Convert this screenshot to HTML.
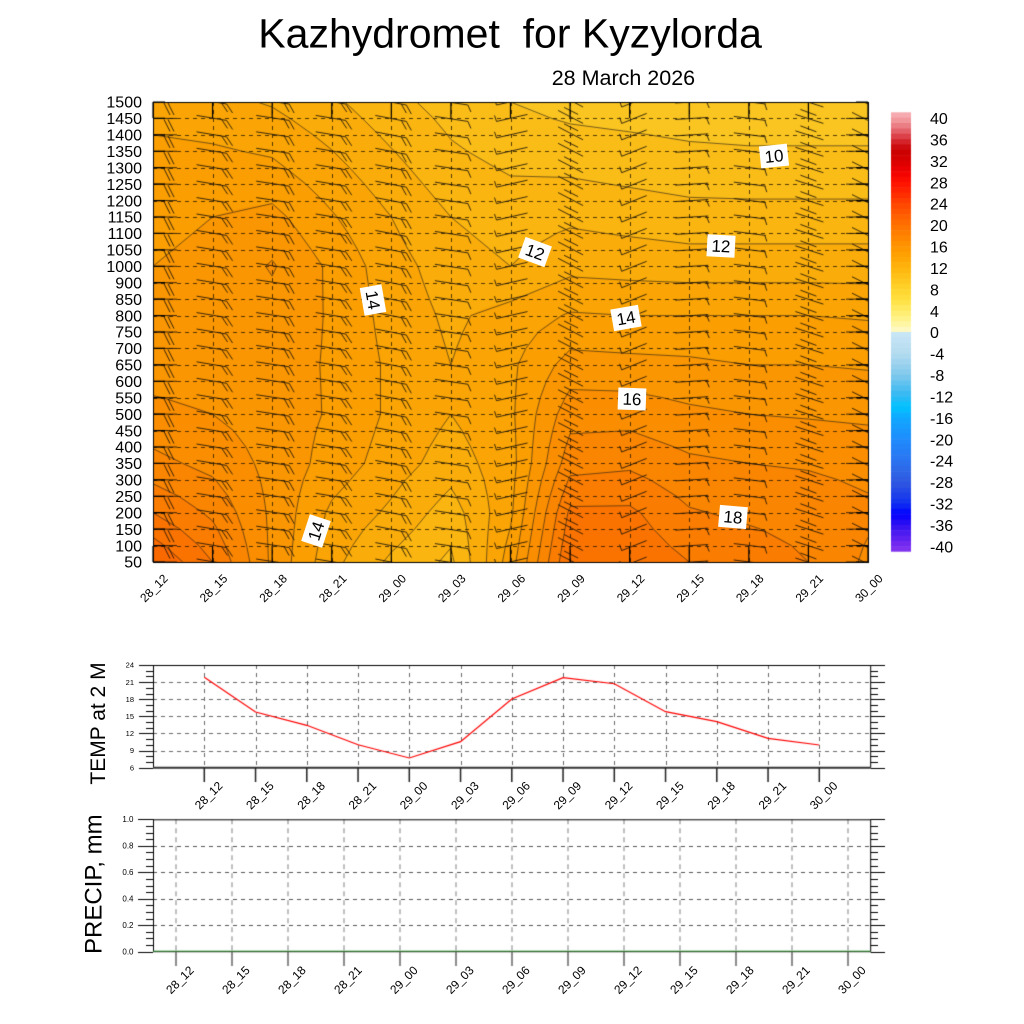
<!DOCTYPE html>
<html><head><meta charset="utf-8">
<style>
html,body{margin:0;padding:0;background:#fff;width:1024px;height:1024px;overflow:hidden}
#cv{position:absolute;left:0;top:0}
#sv{position:absolute;left:0;top:0}
text{font-family:"Liberation Sans",Arial,sans-serif;fill:#000}
</style></head><body>
<canvas id="cv" width="1024" height="1024"></canvas>
<svg id="sv" width="1024" height="1024" viewBox="0 0 1024 1024" xmlns="http://www.w3.org/2000/svg">
<text x="258.3" y="47.7" font-size="41" style="white-space:pre" xml:space="preserve">Kazhydromet  for Kyzylorda</text>
<text x="551.7" y="85" font-size="21.5">28 March 2026</text>

<g font-size="16" text-anchor="end">
<text x="142" y="567.7">50</text><text x="142" y="551.3">100</text><text x="142" y="534.8">150</text>
<text x="142" y="518.4">200</text><text x="142" y="502.0">250</text><text x="142" y="485.6">300</text>
<text x="142" y="469.1">350</text><text x="142" y="452.7">400</text><text x="142" y="436.3">450</text>
<text x="142" y="419.8">500</text><text x="142" y="403.4">550</text><text x="142" y="387.0">600</text>
<text x="142" y="370.6">650</text><text x="142" y="354.1">700</text><text x="142" y="337.7">750</text>
<text x="142" y="321.3">800</text><text x="142" y="304.8">850</text><text x="142" y="288.4">900</text>
<text x="142" y="272.0">1000</text><text x="142" y="255.6">1050</text><text x="142" y="239.1">1100</text>
<text x="142" y="222.7">1150</text><text x="142" y="206.3">1200</text><text x="142" y="189.8">1250</text>
<text x="142" y="173.4">1300</text><text x="142" y="157.0">1350</text><text x="142" y="140.6">1400</text>
<text x="142" y="124.1">1450</text><text x="142" y="107.7">1500</text>
</g>

<g font-size="12" text-anchor="middle">
<text transform="translate(154,588.3) rotate(-45)" dy="4">28_12</text>
<text transform="translate(213.6,588.3) rotate(-45)" dy="4">28_15</text>
<text transform="translate(273.2,588.3) rotate(-45)" dy="4">28_18</text>
<text transform="translate(332.7,588.3) rotate(-45)" dy="4">28_21</text>
<text transform="translate(392.3,588.3) rotate(-45)" dy="4">29_00</text>
<text transform="translate(451.9,588.3) rotate(-45)" dy="4">29_03</text>
<text transform="translate(511.5,588.3) rotate(-45)" dy="4">29_06</text>
<text transform="translate(571.1,588.3) rotate(-45)" dy="4">29_09</text>
<text transform="translate(630.7,588.3) rotate(-45)" dy="4">29_12</text>
<text transform="translate(690.3,588.3) rotate(-45)" dy="4">29_15</text>
<text transform="translate(749.8,588.3) rotate(-45)" dy="4">29_18</text>
<text transform="translate(809.4,588.3) rotate(-45)" dy="4">29_21</text>
<text transform="translate(869,588.3) rotate(-45)" dy="4">30_00</text>

<text transform="translate(208.7,795.5) rotate(-45)" dy="4">28_12</text>
<text transform="translate(260.0,795.5) rotate(-45)" dy="4">28_15</text>
<text transform="translate(311.2,795.5) rotate(-45)" dy="4">28_18</text>
<text transform="translate(362.5,795.5) rotate(-45)" dy="4">28_21</text>
<text transform="translate(413.7,795.5) rotate(-45)" dy="4">29_00</text>
<text transform="translate(465.0,795.5) rotate(-45)" dy="4">29_03</text>
<text transform="translate(516.2,795.5) rotate(-45)" dy="4">29_06</text>
<text transform="translate(567.5,795.5) rotate(-45)" dy="4">29_09</text>
<text transform="translate(618.7,795.5) rotate(-45)" dy="4">29_12</text>
<text transform="translate(670.0,795.5) rotate(-45)" dy="4">29_15</text>
<text transform="translate(721.2,795.5) rotate(-45)" dy="4">29_18</text>
<text transform="translate(772.5,795.5) rotate(-45)" dy="4">29_21</text>
<text transform="translate(823.7,795.5) rotate(-45)" dy="4">30_00</text>

<text transform="translate(180,980) rotate(-45)" dy="4">28_12</text>
<text transform="translate(236,980) rotate(-45)" dy="4">28_15</text>
<text transform="translate(292,980) rotate(-45)" dy="4">28_18</text>
<text transform="translate(348,980) rotate(-45)" dy="4">28_21</text>
<text transform="translate(404,980) rotate(-45)" dy="4">29_00</text>
<text transform="translate(460,980) rotate(-45)" dy="4">29_03</text>
<text transform="translate(516,980) rotate(-45)" dy="4">29_06</text>
<text transform="translate(572,980) rotate(-45)" dy="4">29_09</text>
<text transform="translate(628,980) rotate(-45)" dy="4">29_12</text>
<text transform="translate(684,980) rotate(-45)" dy="4">29_15</text>
<text transform="translate(740,980) rotate(-45)" dy="4">29_18</text>
<text transform="translate(796,980) rotate(-45)" dy="4">29_21</text>
<text transform="translate(852,980) rotate(-45)" dy="4">30_00</text>
</g>

<g font-size="16">
<text x="930" y="124.0">40</text><text x="930" y="145.4">36</text><text x="930" y="166.8">32</text>
<text x="930" y="188.3">28</text><text x="930" y="209.7">24</text><text x="930" y="231.1">20</text>
<text x="930" y="252.5">16</text><text x="930" y="273.9">12</text><text x="930" y="295.4">8</text>
<text x="930" y="316.8">4</text><text x="930" y="338.2">0</text><text x="930" y="359.6">-4</text>
<text x="930" y="381.0">-8</text><text x="930" y="402.5">-12</text><text x="930" y="423.9">-16</text>
<text x="930" y="445.3">-20</text><text x="930" y="466.7">-24</text><text x="930" y="488.1">-28</text>
<text x="930" y="509.6">-32</text><text x="930" y="531.0">-36</text><text x="930" y="552.4">-40</text>
</g>

<g font-size="17" text-anchor="middle">
<g transform="translate(774,156) rotate(-6)"><rect x="-14" y="-11" width="28" height="22" fill="#fff"/><text x="0" y="6">10</text></g>
<g transform="translate(535,252) rotate(20)"><rect x="-14" y="-11" width="28" height="22" fill="#fff"/><text x="0" y="6">12</text></g>
<g transform="translate(721,246) rotate(3)"><rect x="-14" y="-11" width="28" height="22" fill="#fff"/><text x="0" y="6">12</text></g>
<g transform="translate(373,300) rotate(80)"><rect x="-14" y="-11" width="28" height="22" fill="#fff"/><text x="0" y="6">14</text></g>
<g transform="translate(626,318) rotate(-10)"><rect x="-14" y="-11" width="28" height="22" fill="#fff"/><text x="0" y="6">14</text></g>
<g transform="translate(632,399) rotate(2)"><rect x="-14" y="-11" width="28" height="22" fill="#fff"/><text x="0" y="6">16</text></g>
<g transform="translate(733,517) rotate(5)"><rect x="-14" y="-11" width="28" height="22" fill="#fff"/><text x="0" y="6">18</text></g>
<g transform="translate(316,531) rotate(-72)"><rect x="-14" y="-11" width="28" height="22" fill="#fff"/><text x="0" y="6">14</text></g>
</g>

<text transform="translate(105,723.5) rotate(-90)" text-anchor="middle" font-size="21">TEMP at 2 M</text>
<g font-size="7.5" text-anchor="end">
<text x="134" y="667.7">24</text><text x="134" y="684.8">21</text><text x="134" y="701.9">18</text>
<text x="134" y="719.0">15</text><text x="134" y="736.1">12</text><text x="134" y="753.2">9</text>
<text x="134" y="770.4">6</text>
</g>

<text transform="translate(101.5,884.2) rotate(-90)" text-anchor="middle" font-size="24">PRECIP, mm</text>
<g font-size="8" text-anchor="end">
<text x="133.5" y="822.0">1.0</text><text x="133.5" y="848.5">0.8</text><text x="133.5" y="875.0">0.6</text>
<text x="133.5" y="901.4">0.4</text><text x="133.5" y="927.9">0.2</text><text x="133.5" y="954.4">0.0</text>
</g>
</svg>
<script>
(function(){
var cv=document.getElementById('cv'),g=cv.getContext('2d');
g.fillStyle='#fff';g.fillRect(0,0,1024,1024);
var STOPS=[[-41,'#8436f0'],[-40,'#7a2cf0'],[-36,'#3010f0'],[-34,'#0000ff'],[-32,'#1030f0'],[-28,'#3058e0'],[-24,'#2a74f0'],[-20,'#1e8cfc'],[-16,'#10a8ff'],[-14,'#00c4ff'],[-12,'#30b8f4'],[-8,'#80c8ec'],[-4,'#b4dcf0'],[0,'#c8e6f6'],[0.001,'#fffbd0'],[2,'#fff494'],[4,'#ffec68'],[6,'#ffe040'],[8,'#ffd42c'],[10,'#ffc41c'],[12,'#ffb40c'],[14,'#ffa402'],[16,'#ff9400'],[18,'#ff8200'],[20,'#ff7000'],[22,'#ff5a00'],[24,'#ff4400'],[26,'#ff2800'],[28,'#ff1000'],[30,'#f00000'],[32,'#d80000'],[34,'#c80000'],[36,'#d83038'],[38,'#e87078'],[40,'#f4a4a8'],[41,'#f7b0b5']];
var S=STOPS.map(function(s){return [s[0],[parseInt(s[1].substr(1,2),16),parseInt(s[1].substr(3,2),16),parseInt(s[1].substr(5,2),16)]];});
function cmap(v){if(v<=S[0][0])return S[0][1].slice();for(var i=1;i<S.length;i++){if(v<=S[i][0]){var a=S[i-1],b=S[i],t=(v-a[0])/(b[0]-a[0]);return [0,1,2].map(function(k){return Math.round(a[1][k]+(b[1][k]-a[1][k])*t);});}}return S[S.length-1][1].slice();}
function rgb(c){return 'rgb('+c[0]+','+c[1]+','+c[2]+')';}
function line(x1,y1,x2,y2){g.moveTo(x1,y1);g.lineTo(x2,y2);}

/* ---------- main field ---------- */
var X0=153,X1=868,Y0=102,Y1=562,W=X1-X0,H=Y1-Y0,DX=W/12,DY=H/28;
var K=[0,3,6,9,12,15,18,21,24,28];
var F=[
[21.0,19.0,17.3,16.3,15.5,15.2,15.0,14.8,14.4,13.6],
[19.0,17.8,16.7,16.0,15.5,15.3,15.2,15.0,14.4,13.3],
[15.8,15.8,15.7,15.5,15.4,15.6,16.1,15.3,14.2,12.9],
[13.3,13.8,14.6,14.9,14.9,14.9,14.8,14.1,13.3,12.2],
[11.8,12.8,13.5,13.8,13.8,13.6,13.4,13.0,12.3,11.3],
[10.8,11.5,12.5,13.0,13.0,12.8,12.5,12.0,11.3,10.6],
[14.5,13.8,13.6,13.8,13.8,13.4,12.0,11.5,10.9,10.0],
[20.0,19.2,17.6,16.6,15.4,14.1,12.7,11.8,10.8,9.6],
[19.8,19.2,17.8,16.6,15.3,14.0,12.6,11.6,10.6,9.5],
[19.0,18.1,17.2,16.2,15.2,14.0,12.5,11.4,10.4,9.4],
[18.6,17.8,17.0,16.0,15.0,14.0,12.5,11.4,10.3,9.4],
[18.0,17.6,16.9,15.9,15.0,14.0,12.5,11.4,10.3,9.4],
[16.8,17.2,16.7,15.8,14.9,13.9,12.5,11.4,10.3,9.4]];
var G=F.map(function(col){var o=[];for(var j=0;j<=28;j++){var k=0;while(k<K.length-2&&j>K[k+1])k++;var t=(j-K[k])/(K[k+1]-K[k]);o.push(col[k]+(col[k+1]-col[k])*t);}return o;});
var img=g.createImageData(W,H),cache={};
for(var py=0;py<H;py++){var jj=(H-py-0.5)/DY;var j0=Math.floor(jj);if(j0>27)j0=27;if(j0<0)j0=0;var tj=jj-j0;
 for(var px=0;px<W;px++){var cc=(px+0.5)/DX;var c0=Math.floor(cc);if(c0>11)c0=11;var tc=cc-c0;
  var v=(G[c0][j0]*(1-tc)+G[c0+1][j0]*tc)*(1-tj)+(G[c0][j0+1]*(1-tc)+G[c0+1][j0+1]*tc)*tj;
  var b=Math.floor(v);var col=cache[b];
  if(!col){col=cmap(b+0.5);col=[Math.round(col[0]*0.98),Math.round(col[1]*0.985),col[2]];cache[b]=col;}
  var i=(py*W+px)*4;img.data[i]=col[0];img.data[i+1]=col[1];img.data[i+2]=col[2];img.data[i+3]=255;}}
g.putImageData(img,X0,Y0);

function PX(c){return X0+c*DX;} function PY(j){return Y1-j*DY;}
g.save();g.beginPath();g.rect(X0,Y0,W,H);g.clip();
/* contours */
g.strokeStyle='rgba(45,35,25,0.8)';g.lineWidth=0.8;g.beginPath();
for(var L=6;L<=24;L++){for(var c=0;c<12;c++)for(var j=0;j<28;j++){
 var P=[[c,j],[c+1,j],[c+1,j+1],[c,j+1]],vv=P.map(function(p){return G[p[0]][p[1]];}),pts=[];
 for(var e=0;e<4;e++){var a=vv[e],bb=vv[(e+1)%4];if((a<L)!==(bb<L)){var t=(L-a)/(bb-a),p=P[e],q=P[(e+1)%4];pts.push([PX(p[0]+(q[0]-p[0])*t),PY(p[1]+(q[1]-p[1])*t)]);}}
 if(pts.length===2)line(pts[0][0],pts[0][1],pts[1][0],pts[1][1]);
 else if(pts.length===4){var m=(vv[0]+vv[1]+vv[2]+vv[3])/4;
  if((m<L)===(vv[0]<L)){line(pts[0][0],pts[0][1],pts[1][0],pts[1][1]);line(pts[2][0],pts[2][1],pts[3][0],pts[3][1]);}
  else{line(pts[0][0],pts[0][1],pts[3][0],pts[3][1]);line(pts[1][0],pts[1][1],pts[2][0],pts[2][1]);}}
}}
g.stroke();
/* grid */
g.setLineDash([4,4]);g.strokeStyle='rgba(40,25,0,0.8)';g.lineWidth=1;g.beginPath();
for(var j=1;j<28;j++){var y=Math.round(PY(j))+0.5;line(X0,y,X1,y);}
for(var c=1;c<12;c++){var x=Math.round(PX(c))+0.5;line(x,Y0,x,Y1);}
g.stroke();g.setLineDash([]);
/* barbs */
var B=[
 [[0,0,24,0],[11,1,17,13],[15,1,21,13]],
 [[-16,-3,14,2],[14,2,20,11],[9,1,15,10]],
 [[-16,-3,17,2],[17,2,22,11],[12,1,17,10]],
 [[-16,-3,14,2],[14,2,20,11],[9,1,15,10]],
 [[-16,-3,15,3],[15,3,20,12],[10,2,15,11]],
 [[-16,-2,17,3],[17,3,20,10]],
 [[-14,3,17,-4],[-14,3,-16,-3]],
 [[-12,-8,13,5],[-6,-11,8,-4]],
 [[-8,5,17,-5],[-8,5,-10,-1]],
 [[-14,1,19,-1],[17,-1,20,6]],
 [[-15,-2,17,2],[16,2,18,8]],
 [[-13,-4,15,5],[-8,-9,8,-3]],
 [[-22,0,0,0],[-16,-6,0,2]]];
g.strokeStyle='rgba(25,18,10,0.85)';g.lineWidth=1;g.beginPath();
for(var c=0;c<13;c++)for(var j=0;j<=28;j++){var x=PX(c),y=PY(j);B[c].forEach(function(s){line(x+s[0],y+s[1],x+s[2],y+s[3]);});}
g.stroke();g.restore();
/* ticks + border */
g.strokeStyle='#000';g.lineWidth=1.2;g.beginPath();
for(var c=0;c<=12;c++){var x=PX(c);line(x,Y0,x,Y0+16);line(x,Y1,x,Y1-16);}
for(var j=0;j<=28;j++){var y=PY(j);line(X0,y,X0+12,y);line(X1,y,X1-12,y);}
g.stroke();
g.lineWidth=1;g.strokeRect(X0+0.5,Y0+0.5,W,H);

/* ---------- colorbar ---------- */
for(var k=0;k<82;k++){var y=112.3+k*5.358;g.fillStyle=rgb(cmap(40.5-k));g.fillRect(891,y,20,k==81?5.4:5.9);}

/* ---------- temp panel ---------- */
var TX0=153,TX1=870.7,TY0=665,TY1=767.7;
function tx(i){return 204.3+51.25*i;} function ty(v){return TY1-(v-6)*(TY1-TY0)/18;}
g.setLineDash([4,4]);g.strokeStyle='#6a6a6a';g.lineWidth=1;g.beginPath();
for(var v=9;v<=21;v+=3){var y=Math.round(ty(v))+0.5;line(TX0,y,TX1,y);}
for(var i=0;i<13;i++){var x=Math.round(tx(i))+0.5;line(x,TY0,x,TY1);}
g.stroke();g.setLineDash([]);
g.strokeStyle='#000';g.lineWidth=1;g.beginPath();
line(TX0,TY0+0.5,TX1,TY0+0.5);line(TX0+0.5,TY0,TX0+0.5,TY1);line(TX1,TY0,TX1,TY1);
for(var k=0;k<=18;k++){var y=Math.round(ty(6+k))+0.5;var mj=(k%3==0);line(mj?139:146,y,TX0,y);line(TX1,y,mj?885:878,y);}
g.stroke();
g.strokeStyle='#333';g.lineWidth=2;g.beginPath();line(TX0,TY1,TX1,TY1);g.stroke();
g.strokeStyle='#222';g.lineWidth=1.5;g.beginPath();
for(var i=0;i<13;i++){var x=tx(i);line(x,TY1,x,782);}
g.stroke();
var TT=[21.84,15.76,13.43,10.03,7.7,10.56,18.04,21.78,20.72,15.82,14.07,11.15,9.98];
g.strokeStyle='#ff0000';g.lineWidth=1.2;g.beginPath();
TT.forEach(function(t,i){if(i==0)g.moveTo(tx(i),ty(t));else g.lineTo(tx(i),ty(t));});g.stroke();

/* ---------- precip panel ---------- */
var QX0=153,QX1=870.7,QY0=819.3,QY1=951.7;
function qx(i){return 176+56*i;} function qy(v){return QY1-v*(QY1-QY0);}
g.setLineDash([4,4]);g.strokeStyle='#555';g.lineWidth=1;g.beginPath();
for(var v=1;v<=4;v++){var y=Math.round(qy(v*0.2))+0.5;line(QX0,y,QX1,y);}
g.stroke();
g.setLineDash([5,4]);g.strokeStyle='#aaa';g.lineWidth=1.5;g.beginPath();
for(var i=0;i<13;i++){var x=qx(i);line(x,QY0,x,QY1);}
g.stroke();g.setLineDash([]);
g.strokeStyle='#000';g.lineWidth=1;g.beginPath();
line(QX0,QY0+0.5,QX1,QY0+0.5);line(QX0+0.5,QY0,QX0+0.5,QY1);line(QX1,QY0,QX1,QY1);line(QX0,QY1,QX1,QY1);
for(var k=0;k<=20;k++){var y=Math.round(qy(k*0.05))+0.5;var mj=(k%4==0);line(mj?138:146,y,QX0,y);line(QX1,y,mj?885:878,y);}
g.stroke();
g.strokeStyle='#2e8b2e';g.lineWidth=1;g.beginPath();line(QX0,QY1-0.5,QX1,QY1-0.5);g.stroke();
g.strokeStyle='#666';g.lineWidth=1.5;g.beginPath();
for(var i=0;i<13;i++){var x=qx(i);line(x,QY1,x,966);}
g.stroke();
})();
</script>
</body></html>
